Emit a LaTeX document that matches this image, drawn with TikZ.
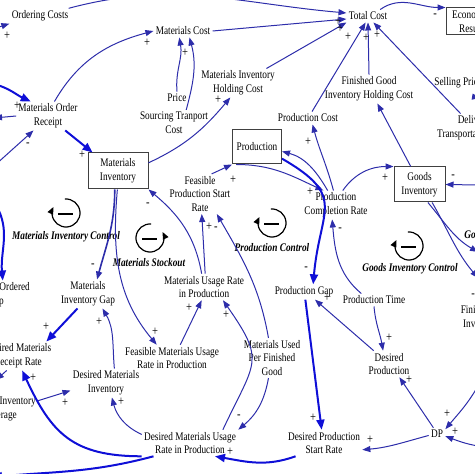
\documentclass[tikz,border=0pt]{standalone}
\usepackage{fontspec}
\setmainfont{Liberation Serif}[FakeStretch=0.8]
\usetikzlibrary{arrows.meta}
\definecolor{linkblue}{RGB}{45,45,170}
\definecolor{boldblue}{RGB}{15,15,215}
\newcommand\varfont{\fontsize{5.8}{6.8}\selectfont}
\newcommand\loopfont{\fontsize{5.8}{6.8}\selectfont\bfseries\itshape}
\tikzset{
  var/.style={align=center, inner sep=1pt, font=\varfont},
  stockbox/.style={var, draw=black!75, line width=0.5pt},
  link/.style={draw=linkblue, line width=0.5pt, -{Triangle[length=4pt,width=3pt]}},
  boldlink/.style={draw=boldblue, line width=1pt, -{Triangle[length=5pt,width=4pt]}},
  sign/.style={inner sep=0pt, text=black, font=\fontsize{6.6}{6.6}\selectfont},
  looplabel/.style={inner sep=1pt, font=\loopfont}
}
\begin{document}
\begin{tikzpicture}[x=0.5pt, y=0.5pt]
    \useasboundingbox (0,0) rectangle (474,-474);
    % Stocks
    \node[stockbox, minimum width=30pt, minimum height=18pt] (matinv) at (118,-171) {Materials\\Inventory};
    \node[stockbox, minimum width=24.5pt, minimum height=17pt] (prod) at (257,-147) {Production};
    \node[stockbox, minimum width=25.5pt, minimum height=17.5pt] (goodsinv) at (419.5,-184.5) {Goods\\Inventory};
    \node[stockbox, minimum width=25pt, minimum height=13.5pt] (econres) at (471,-21.5) {Economic\\Result};
    % Variables
    \node[var] (ordcost) at (40,-16) {Ordering Costs};
    \node[var] (matcost) at (183,-31) {Materials Cost};
    \node[var] (totcost) at (368,-16) {Total Cost};
    \node[var] (price) at (177,-98) {Price};
    \node[var] (srccost) at (174,-123) {Sourcing Tranport\\Cost};
    \node[var] (mihc) at (238,-83) {Materials Inventory\\Holding Cost};
    \node[var] (fgihc) at (369,-89) {Finished Good\\Inventory Holding Cost};
    \node[var, anchor=west] (sellprice) at (432,-83) {Selling Price};
    \node[var] (deltc) at (474,-128) {Delivery\\Transportation Cost};
    \node[var] (mor) at (48,-116) {Materials Order\\Receipt};
    \node[var] (prodcost) at (308,-118) {Production Cost};
    \node[var] (fpsr) at (200,-194) {Feasible\\Production Start\\Rate};
    \node[var] (pcr) at (336,-205) {Production\\Completion Rate};
    \node[var] (murp) at (204,-287) {Materials Usage Rate\\in Production};
    \node[var] (mig) at (88,-294) {Materials\\Inventory Gap};
    \node[var] (mog) at (-4,-295) {Materials Ordered\\Gap};
    \node[var] (prodgap) at (304,-292) {Production Gap};
    \node[var] (prodtime) at (374,-300) {Production Time};
    \node[var] (fgig) at (490,-318) {Finished Goods\\Inventory Gap};
    \node[var] (dmrr) at (18,-356) {Desired Materials\\Receipt Rate};
    \node[var] (fmurp) at (172,-358) {Feasible Materials Usage\\Rate in Production};
    \node[var] (mupfg) at (272,-358) {Materials Used\\Per Finished\\Good};
    \node[var] (dprod) at (389,-364) {Desired\\Production};
    \node[var] (dmi) at (106,-383) {Desired Materials\\Inventory};
    \node[var] (micov) at (-1,-409) {Materials Inventory\\Coverage};
    \node[var] (dmurp) at (190,-443) {Desired Materials Usage\\Rate in Production};
    \node[var] (dpsr) at (324,-443) {Desired Production\\Start Rate};
    \node[var] (dp) at (437,-434) {DP};
    % Loop names
    \node[looplabel] (lmic) at (66,-237) {Materials Inventory Control};
    \node[looplabel] (lms) at (149,-263) {Materials Stockout};
    \node[looplabel] (lpc) at (272,-248) {Production Control};
    \node[looplabel] (lgic) at (410,-269) {Goods Inventory Control};
    \node[looplabel, anchor=west] (lgd) at (462,-236) {Goods Delivery};
    % Ends off the page
    \coordinate (ordin) at (-4,-28); \coordinate (morin) at (-6,-84);
    \coordinate (morout) at (-6,-118); \coordinate (morin2) at (-6,-166);
    \coordinate (mogin) at (-4,-205); \coordinate (dmrrout) at (-4,-380);
    \coordinate (dmurpout) at (-8,-477); \coordinate (goodsin) at (478,-185);
    \coordinate (goodsout1) at (478,-252); \coordinate (goodsout2) at (478,-278);
    \coordinate (dpin1) at (478,-386); \coordinate (dpin2) at (478,-446);
    \coordinate (sellout) at (480,-98);
    % Costs
    \draw[link] (ordin) -- (ordcost.south west);
    \draw[link] (ordcost.15) to[out=15,in=175] (totcost.172);
    \draw[link] (matcost.east) -- (totcost.188);
    \draw[link] (mihc.27) -- (totcost.south west);
    \draw[link] (prodcost.58) -- (totcost.-110);
    \draw[link] (fgihc.north) -- (totcost.south);
    \draw[link] (deltc.133) -- (totcost.-50);
    \draw[link] (totcost.28) to[out=35,in=180] (econres.north west);
    \draw[link] (mor.66) to[out=60,in=195] (matcost.west);
    \draw[link] (price.north) to[out=95,in=-80] (matcost.-120);
    \draw[link] (srccost.47) to[out=75,in=-75] (matcost.-45);
    \draw[link] (matinv.15) to[out=25,in=-130] (mihc.-118);
    % Materials
    \draw[boldlink] (morin) to[out=-15,in=155] (mor.140);
    \draw[link] (mor.west) -- (morout);
    \draw[link] (morin2) -- (mor.-135);
    \draw[boldlink] (mor.-40) -- (matinv.144);
    \draw[link, line width=0.8pt] (matinv.-100) to[out=-90,in=75] (mig.58);
    \draw[link] (matinv.-92) to[out=-95,in=130] (fmurp.139);
    \draw[link] (murp.100) to[out=100,in=-40] (matinv.south east);
    \draw[link] (murp.85) -- (fpsr.-85);
    \draw[link] (mupfg.100) to[out=100,in=-60] (fpsr.-50);
    \draw[link] (fmurp.58) -- (murp.-100);
    \draw[link] (dmurp.22) to[out=65,in=-55,looseness=1.5] (murp.-35);
    \draw[link] (mupfg.-100) to[out=-100,in=40] (dmurp.north east);
    \draw[link] (dmurp.170) to[out=155,in=-75] (dmi.-68);
    \draw[link] (dmi.60) to[out=95,in=-60] (mig.-45);
    \draw[boldlink] (mig.-126) -- (dmrr.27);
    \draw[boldlink] (dmurp.south west) to[out=180,in=-65,looseness=1.2] (dmrr.-74);
    \draw[link] (micov.12) -- (dmi.192);
    \draw[link] (dmrr.-128) -- (dmrrout);
    \draw[boldlink] (mogin) to[out=-60,in=95] (mog.65);
    \draw[boldlink] (dmurp.-160) to[out=195,in=5] (dmurpout);
    % Production
    \draw[link] (fpsr.60) -- (prod.south west);
    \draw[link] (prod.-140) to[out=0,in=155] (pcr.131);
    \draw[link] (pcr.120) to[out=120,in=-15] (prod.-10);
    \draw[boldlink] (prod.-25) to[out=-30,in=85,looseness=1.5] (prodgap.40);
    \draw[link] (pcr.100) to[out=105,in=-75] (prodcost.-55);
    \draw[link] (pcr.65) to[out=55,in=180] (goodsinv.north west);
    \draw[link] (prodtime.153) to[out=140,in=-85] (pcr.-105);
    % Goods
    \draw[link] (goodsinv.116) -- (fgihc.-60);
    \draw[link] (goodsin) -- (goodsinv.east);
    \draw[link] (goodsinv.-65) to[out=-50,in=150] (goodsout1);
    \draw[link] (goodsinv.-55) to[out=-60,in=130] (goodsout2);
    \draw[link] (sellprice.east) to[out=-20,in=170] (sellout);
    \draw[link] (prodtime.south) to[out=-85,in=100] (dprod.114);
    \draw[link] (dprod.139) -- (prodgap.-35);
    \draw[boldlink] (prodgap.-80) -- (dpsr.100);
    \draw[link] (dp.120) -- (dprod.-52);
    \draw[link] (dp.190) to[out=195,in=5] (dpsr.-10);
    \draw[boldlink] (dpsr.-155) to[out=200,in=-10] (dmurp.-28);
    \draw[link] (dpin1) to[out=-120,in=50] (dp.30);
    \draw[link] (dpin2) to[out=170,in=-20] (dp.-15);
    % Polarity signs
    \foreach \sx/\sy/\s [count=\i] in {7/36/+, 338/22/+, 340/29/+, 348/37/+, 366/38/+, 377/35/+,
        435/16/-, 147/43/+, 185/53/+, 218/100/+, 17/106/+, 28/145/-, 82/155/+, 93/266/-,
        148/205/-, 209/227/+, 216/229/-, 233/180/+, 155/332/+, 189/308/+, 226/315/+, 99/322/+,
        46/327/+, 33/378/+, 65/403/+, 121/402/+, 239/417/-, 230/452/+, 308/142/+, 310/192/+,
        385/178/+, 453/177/-, 340/230/-, 306/269/-, 327/298/+, 389/338/+, 409/380/+, 313/418/+,
        370/440/+, 447/414/+, 455/432/+, 473/296/-}
        \node[sign] (sg\i) at (\sx,-\sy) {\s};
    % Loop symbols
    \foreach \cx/\cy/\sa/\ea [count=\i] in {66/213/95/-205, 150/238/85/385, 272/223/95/-205, 409/246/95/-205} {
        \coordinate (loop\i) at (\cx,-\cy);
        \draw[line width=0.6pt, -{Triangle[length=3.5pt,width=3pt]}] (loop\i) ++(\sa:14) arc[start angle=\sa, end angle=\ea, radius=14];
        \draw[line width=0.9pt] (\cx-8,-\cy-1) -- (\cx+7,-\cy-1);
    }
\end{tikzpicture}
\end{document}
